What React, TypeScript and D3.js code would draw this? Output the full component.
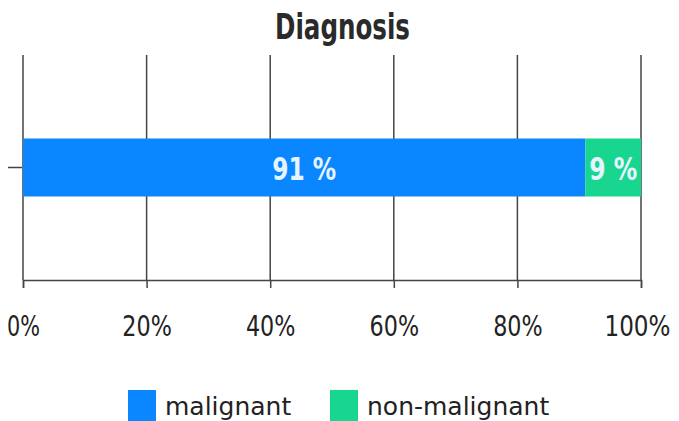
import React, { useRef, useEffect } from "react";
import * as d3 from "d3";

const categories = ["Diagnosis"];
const seriesNames = ["malignant", "non-malignant"];
const seriesValues = [91, 9];
const seriesColors = ["#0a86ff", "#18d690"];
const tickValues = [0, 20, 40, 60, 80, 100];

const width = 679;
const height = 421;
const margin = { top: 55, right: 38, bottom: 141, left: 23 };
const condensed = "'DejaVu Sans Condensed', 'DejaVu Sans', sans-serif";

function App() {
  const svgRef = useRef<SVGSVGElement>(null);

  useEffect(() => {
    const svg = d3.select(svgRef.current);
    svg.selectAll("*").remove();

    const x = d3
      .scaleLinear()
      .domain([0, 100])
      .range([margin.left, width - margin.right]);
    const y = d3
      .scaleBand()
      .domain(categories)
      .range([margin.top, height - margin.bottom])
      .padding(0.59);

    // title
    svg
      .append("text")
      .attr("x", 275)
      .attr("y", 39)
      .attr("font-family", condensed)
      .attr("font-weight", "bold")
      .attr("font-size", 36)
      .attr("textLength", 135)
      .attr("lengthAdjust", "spacingAndGlyphs")
      .attr("fill", "#2a2a2a")
      .text("Diagnosis");

    // vertical grid
    svg
      .append("g")
      .selectAll("line")
      .data(tickValues)
      .join("line")
      .attr("x1", (d) => x(d))
      .attr("x2", (d) => x(d))
      .attr("y1", margin.top)
      .attr("y2", height - margin.bottom)
      .attr("stroke", "#444")
      .attr("stroke-width", 1.5);

    // x axis
    const xAxis = svg
      .append("g")
      .attr("transform", "translate(0," + (height - margin.bottom) + ")")
      .call(
        d3
          .axisBottom(x)
          .tickValues(tickValues)
          .tickSize(8)
          .tickFormat((d) => d + "%")
      );
    xAxis.select(".domain").attr("stroke", "#444").attr("stroke-width", 1.5);
    xAxis.selectAll(".tick line").attr("stroke", "#444").attr("stroke-width", 1.5);
    xAxis
      .selectAll<SVGTextElement, number>(".tick text")
      .attr("y", 56)
      .attr("dy", 0)
      .attr("dx", (d) => (d === 100 ? -4 : 0))
      .attr("font-family", condensed)
      .attr("font-size", 29)
      .attr("fill", "#222")
      .attr("textLength", (d) => (d + "%").length * 16.5)
      .attr("lengthAdjust", "spacingAndGlyphs");

    // y axis tick only
    const yAxis = svg
      .append("g")
      .attr("transform", "translate(" + (margin.left - 1) + ",0)")
      .call(d3.axisLeft(y).tickSize(14).tickFormat(() => ""));
    yAxis.select(".domain").remove();
    yAxis.selectAll(".tick line").attr("stroke", "#444").attr("stroke-width", 1.5);

    // stacked bar
    const stacked = seriesValues.map((v, i) => {
      const start = d3.sum(seriesValues.slice(0, i));
      return { name: seriesNames[i], start: start, end: start + v, value: v };
    });
    const bar = svg.append("g");
    bar
      .selectAll("rect")
      .data(stacked)
      .join("rect")
      .attr("x", (d) => x(d.start))
      .attr("y", y(categories[0])!)
      .attr("width", (d) => x(d.end) - x(d.start))
      .attr("height", y.bandwidth())
      .attr("fill", (d, i) => seriesColors[i]);
    bar
      .selectAll("text")
      .data(stacked)
      .join("text")
      .attr("x", (d) => (x(d.start) + x(d.end)) / 2)
      .attr("y", y(categories[0])! + y.bandwidth() / 2 + 12)
      .attr("text-anchor", "middle")
      .attr("font-family", condensed)
      .attr("font-weight", "bold")
      .attr("font-size", 32)
      .attr("fill", "#e6f4ff")
      .attr("textLength", (d) => (d.value + " %").length * 16)
      .attr("lengthAdjust", "spacingAndGlyphs")
      .text((d) => d.value + " %");

    // legend
    const legend = svg.append("g").attr("transform", "translate(0,390)");
    const legendX = [128, 330];
    const items = legend
      .selectAll("g")
      .data(seriesNames)
      .join("g")
      .attr("transform", (d, i) => "translate(" + legendX[i] + ",0)");
    items
      .append("rect")
      .attr("width", 28)
      .attr("height", 31)
      .attr("fill", (d, i) => seriesColors[i]);
    items
      .append("text")
      .attr("x", 37)
      .attr("y", 25)
      .attr("font-family", "'DejaVu Sans', sans-serif")
      .attr("font-size", 25)
      .attr("fill", "#222")
      .text((d) => d);
  }, []);

  return (
    <svg
      ref={svgRef}
      width={width}
      height={height}
      style={{ position: "absolute", left: 0, top: 0, background: "#fff" }}
    />
  );
}

export default App;
